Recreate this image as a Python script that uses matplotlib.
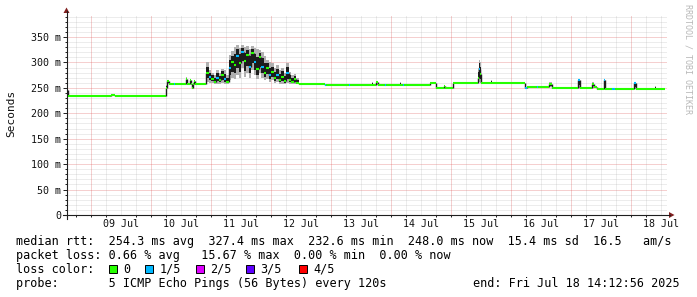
import matplotlib
matplotlib.use("Agg")
import matplotlib.pyplot as plt
import numpy as np
from matplotlib.patches import Rectangle, Polygon
from matplotlib.lines import Line2D

W, H = 697, 297
MONO = "DejaVu Sans Mono"

# ---------------- data ----------------
# time axis: days since 08 Jul 00:00 ; values in milliseconds
x_start = 0.5923            # Jul 08 14:12:56
x_end = 10.5923             # Jul 18 14:12:56
data_end = 10.559
day_labels = ["09 Jul", "10 Jul", "11 Jul", "12 Jul", "13 Jul",
              "14 Jul", "15 Jul", "16 Jul", "17 Jul", "18 Jul"]
y_ticks = [0, 50, 100, 150, 200, 250, 300, 350]
y_tick_labels = ["0", "50 m", "100 m", "150 m", "200 m", "250 m", "300 m", "350 m"]
y_top = 393.3

# steps before the busy period (irregular step starts)
pre_day = [0.592, 0.607, 1.326, 1.392, 2.242, 2.258, 2.300, 2.376, 2.392,
           2.575, 2.592, 2.642, 2.658, 2.675, 2.692, 2.708, 2.725]
pre_med = [246, 234, 235.5, 234, 250, 263, 258, 257, 257,
           267, 257, 265, 257, 250, 257, 263, 257]
pre_low = [234, 234, 235.5, 234, 240, 258, 258, 257, 257,
           257, 257, 257, 257, 248, 257, 257, 257]
pre_high = [252, 234, 235.5, 234, 256, 266, 258, 257, 257,
            271, 257, 268, 257, 257, 257, 265, 257]
pre_loss = [1, 0, 0, 0, 0, 0, 0, 1, 0,
            0, 0, 0, 0, 0, 0, 0, 0]

# hourly values of the busy period, from Jul 10 21:00
busy_start = 2.875
busy_med = [258, 280, 272, 268, 262, 270, 265, 275, 268, 262,
            290, 300, 295, 312, 298, 320, 302, 314, 292, 318,
            300, 288, 310, 292, 280, 290, 275, 282, 270, 276,
            266, 272, 264, 280, 266, 262, 268, 260]
busy_low = [257, 262, 260, 260, 257, 258, 258, 260, 258, 257,
            265, 270, 268, 275, 270, 290, 272, 280, 270, 285,
            275, 268, 280, 270, 265, 268, 262, 265, 260, 262,
            258, 258, 257, 260, 257, 257, 257, 257]
busy_high = [260, 300, 285, 280, 275, 285, 280, 288, 285, 275,
             315, 322, 330, 335, 328, 334, 330, 332, 326, 333,
             328, 326, 324, 320, 312, 305, 300, 298, 290, 295,
             285, 290, 280, 298, 282, 275, 278, 270]
busy_loss = [0, 0, 1, 0, 0, 1, 0, 0, 1, 0,
             1, 0, 0, 1, 0, 1, 0, 0, 1, 0,
             1, 0, 0, 1, 0, 0, 1, 0, 0, 1,
             0, 0, 0, 1, 0, 0, 0, 0]

# steps after the busy period
post_day = [4.458, 4.892, 4.908, 5.292, 5.308, 5.426, 5.675, 5.692, 5.750, 5.775,
            5.892, 5.908, 6.142, 6.158, 6.192, 6.208, 6.642, 6.742, 6.875, 6.892,
            7.026, 7.442, 7.458, 7.475, 7.492, 7.667, 7.683, 8.226, 8.259, 8.426,
            8.442, 8.626, 8.675, 9.117, 9.142, 9.342, 9.375, 9.426, 9.542, 9.559,
            9.675, 9.725, 10.050, 10.075, 10.392, 10.409]
post_med = [257, 255, 255, 255, 255, 256.5, 256.5, 256.5, 262, 256.5,
            256.5, 256.5, 256.5, 256.5, 255, 255, 259, 250, 254, 250,
            259, 270, 288, 278, 259, 259, 259, 249, 251, 251,
            251, 258, 250, 266, 250, 257, 252, 247.5, 265, 247.5,
            247.5, 247.5, 259, 247.5, 247.5, 247.5]
post_low = [257, 255, 255, 255, 255, 256.5, 256.5, 256.5, 256.5, 256.5,
            256.5, 256.5, 256.5, 256.5, 255, 255, 259, 250, 250, 250,
            259, 259, 262, 260, 259, 259, 259, 248, 251, 251,
            251, 251, 250, 250, 250, 250, 250, 247.5, 247.5, 247.5,
            247.5, 247.5, 247.5, 247.5, 247.5, 247.5]
post_high = [257, 255, 255, 255, 255, 256.5, 261, 256.5, 264, 256.5,
             256.5, 256.5, 261, 256.5, 255, 255, 259, 250, 254, 250,
             259, 290, 305, 300, 259, 265, 259, 249, 251, 251,
             251, 262, 250, 267, 250, 262, 252, 247.5, 266, 247.5,
             247.5, 247.5, 261, 247.5, 254, 247.5]
post_loss = [0, 1, 0, 1, 0, 0, 0, 0, 0, 0,
             1, 0, 0, 0, 1, 0, 0, 0, 0, 0,
             0, 0, 1, 0, 0, 0, 0, 1, 0, 1,
             0, 0, 0, 1, 0, 0, 0, 0, 1, 0,
             1, 0, 1, 0, 0, 0]

loss_labels = ["0", "1/5", "2/5", "3/5", "4/5"]
loss_colors = ["#26ff00", "#00b8ff", "#dd00ff", "#5e00ff", "#ff0000"]

legend_lines = [
    "median rtt:  254.3 ms avg  327.4 ms max  232.6 ms min  248.0 ms now  15.4 ms sd  16.5   am/s",
    "packet loss: 0.66 % avg   15.67 % max  0.00 % min  0.00 % now",
]
probe_text = "probe:       5 ICMP Echo Pings (56 Bytes) every 120s"
end_text = "end: Fri Jul 18 14:12:56 2025"

# ---------------- assemble series ----------------
busy_day = list(busy_start + np.arange(len(busy_med)) / 24.0)
t0 = np.array(pre_day + busy_day + post_day, dtype=float)
med = np.array(pre_med + busy_med + post_med, dtype=float)
low = np.array(pre_low + busy_low + post_low, dtype=float)
high = np.array(pre_high + busy_high + post_high, dtype=float)
loss = np.array(pre_loss + busy_loss + post_loss, dtype=int)
t1 = np.append(t0[1:], data_end)

# ---------------- figure ----------------
fig = plt.figure(figsize=(W / 100, H / 100), dpi=100, facecolor="white")
L, R, T, B = 67, 667, 15, 215
ax = fig.add_axes([L / W, (H - B) / H, (R - L) / W, (B - T) / H])
ax.set_facecolor("white")
ax.set_xlim(x_start, x_end)
ax.set_ylim(0, y_top)
for s in ax.spines.values():
    s.set_visible(False)

dot = (0, (1, 1))
# grid
for v in np.arange(10, y_top, 10):
    if v % 50 == 0:
        ln = ax.axhline(v, color="#de5050", alpha=0.55, lw=0.72, ls=dot, zorder=1)
    else:
        ln = ax.axhline(v, color="#a0a0a0", alpha=0.38, lw=0.72, ls=dot, zorder=1)
    ln.set_snap(True)
for q in np.arange(np.ceil(x_start * 4) / 4, x_end, 0.25):
    if abs(q - round(q)) < 1e-6:
        ln = ax.axvline(q, color="#de5050", alpha=0.55, lw=0.72, ls=dot, zorder=1)
    else:
        ln = ax.axvline(q, color="#a0a0a0", alpha=0.38, lw=0.72, ls=dot, zorder=1)
    ln.set_snap(True)

# smoke
ax.fill_between(np.append(t0, data_end), np.append(low, low[-1]), np.append(high, high[-1]),
                step="post", color="#b0b0b0", lw=0, zorder=2)
dlo = med - 0.6 * (med - low)
dhi = med + 0.6 * (high - med)
ax.fill_between(np.append(t0, data_end), np.append(dlo, dlo[-1]), np.append(dhi, dhi[-1]),
                step="post", color="#1c1c1c", lw=0, zorder=3)

# median line: verticals then coloured steps
ax.vlines(t0[1:], np.minimum(med[:-1], med[1:]), np.maximum(med[:-1], med[1:]),
          color="#1c1c1c", lw=1.0, zorder=4)
ax.hlines(med, t0, t1, colors=[loss_colors[k] for k in loss], lw=1.5, zorder=5)

# ticks
ax.set_yticks(y_ticks)
ax.set_yticklabels(y_tick_labels, fontfamily=MONO, fontsize=7.2, color="#111111")
ax.set_yticks(np.arange(10, y_top, 10), minor=True)
ax.tick_params(axis="y", which="major", length=2.6, width=0.7, color="#1f1f1f", pad=1.6)
ax.tick_params(axis="y", which="minor", length=1.4, width=0.7, color="#1f1f1f")
noon = np.arange(1.5, 11, 1.0)
ax.set_xticks(noon)
ax.set_xticklabels(day_labels, fontfamily=MONO, fontsize=7.2, color="#111111")
ax.set_xticks(np.arange(0.75, x_end, 0.25), minor=True)
ax.tick_params(axis="x", which="major", length=0, pad=3.2)
ax.tick_params(axis="x", which="minor", length=1.6, width=0.7, color="#1f1f1f")


def fx(px):
    return px / W


def fy(py):
    return 1 - py / H


# axis lines and arrows
fig.add_artist(Line2D([fx(66.5), fx(66.5)], [fy(219), fy(11)], color="#1f1f1f", lw=0.8))
fig.add_artist(Line2D([fx(63), fx(670)], [fy(215), fy(215)], color="#1f1f1f", lw=0.8))
fig.add_artist(Polygon([(fx(63.5), fy(13)), (fx(69.5), fy(13)), (fx(66.5), fy(7.5))],
                       closed=True, color="#801f1f", lw=0))
fig.add_artist(Polygon([(fx(669), fy(212)), (fx(669), fy(218)), (fx(674.5), fy(215))],
                       closed=True, color="#801f1f", lw=0))

# y label
fig.text(fx(11), fy(113), "Seconds", rotation=90, ha="center", va="center",
         fontfamily=MONO, fontsize=8, color="#111111")
# watermark
fig.text(fx(688), fy(4), "RRDTOOL / TOBI OETIKER", rotation=270, ha="center", va="top",
         fontfamily=MONO, fontsize=6.0, color="#b8b8b8")

fs = 8.45
fig.text(fx(16), fy(245), legend_lines[0], fontfamily=MONO, fontsize=fs, color="#000000",
         va="baseline")
fig.text(fx(16), fy(259), legend_lines[1], fontfamily=MONO, fontsize=fs, color="#000000",
         va="baseline")
fig.text(fx(16), fy(273), "loss color:", fontfamily=MONO, fontsize=fs, color="#000000",
         va="baseline")
sw_x = [109, 145, 196, 246, 299]
for xs, lab, col in zip(sw_x, loss_labels, loss_colors):
    fig.add_artist(Rectangle((fx(xs), fy(273)), 8 / W, 8 / H, facecolor=col,
                             edgecolor="#000000", lw=0.7, transform=fig.transFigure))
    fig.text(fx(xs + 14.5), fy(273), lab, fontfamily=MONO, fontsize=fs, color="#000000",
             va="baseline")
fig.text(fx(16), fy(287), probe_text, fontfamily=MONO, fontsize=fs, color="#000000",
         va="baseline")
fig.text(fx(680), fy(287), end_text, fontfamily=MONO, fontsize=fs, color="#000000",
         va="baseline", ha="right")

fig.savefig("out.png", dpi=100, facecolor="white")
